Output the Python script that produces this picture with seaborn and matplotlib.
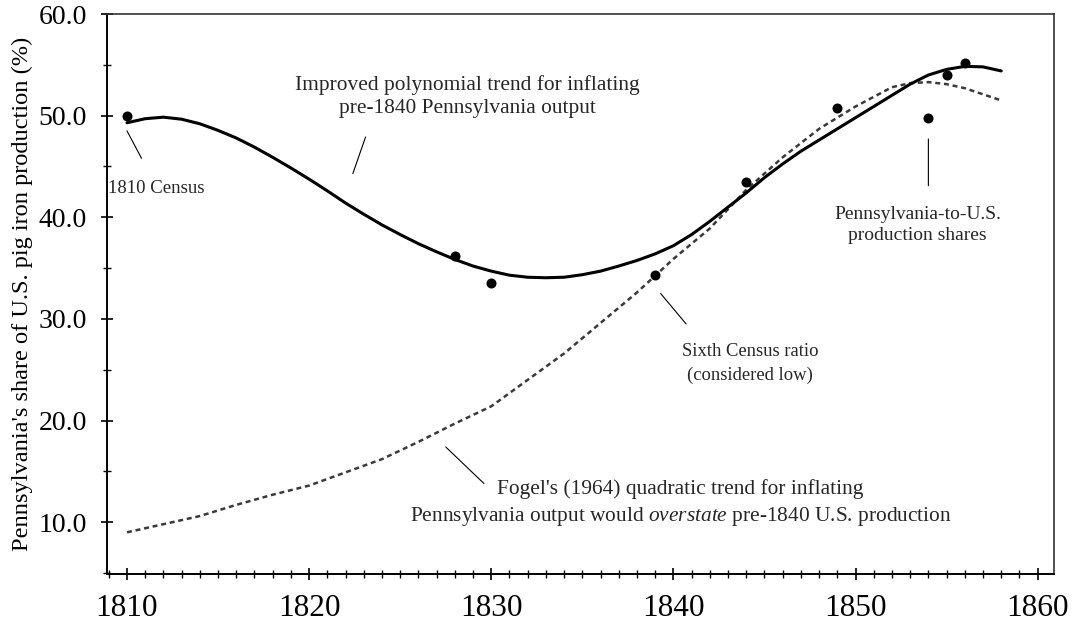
import numpy as np
import pandas as pd
import matplotlib
matplotlib.use("Agg")
import matplotlib.pyplot as plt
import seaborn as sns
from matplotlib.ticker import MultipleLocator, FormatStrFormatter

# ---- data ----
obs_years = [1810, 1828, 1830, 1839, 1844, 1849, 1854, 1855, 1856]
obs_share = [50.0, 36.2, 33.5, 34.3, 43.5, 50.8, 49.8, 54.0, 55.2]

poly_years = list(range(1810, 1859))
poly_share = [49.3, 49.7, 49.85, 49.65, 49.2, 48.55, 47.8, 46.9, 45.9, 44.85,
              43.75, 42.6, 41.4, 40.3, 39.25, 38.3, 37.4, 36.6, 35.85, 35.2,
              34.7, 34.3, 34.1, 34.05, 34.1, 34.35, 34.7, 35.2, 35.75, 36.4,
              37.2, 38.3, 39.6, 41.0, 42.4, 43.9, 45.25, 46.5, 47.6, 48.7,
              49.8, 50.9, 52.0, 53.1, 54.0, 54.55, 54.85, 54.8, 54.4]

fogel_years = [1810, 1812, 1814, 1816, 1818, 1820, 1822, 1824, 1826, 1828,
               1830, 1832, 1834, 1836, 1838, 1840, 1842, 1844, 1846, 1848,
               1850, 1852, 1853, 1854, 1855, 1856, 1857, 1858]
fogel_share = [9.0, 9.8, 10.6, 11.7, 12.7, 13.6, 14.9, 16.2, 17.9, 19.7,
               21.4, 24.0, 26.6, 29.6, 32.6, 35.9, 38.9, 42.7, 45.9, 48.7,
               50.9, 52.8, 53.2, 53.3, 53.1, 52.7, 52.1, 51.5]

x_ticks = [1810, 1820, 1830, 1840, 1850, 1860]
y_ticks = [10, 20, 30, 40, 50, 60]
y_label = "Pennsylvania's share of U.S. pig iron production (%)"

# ---- style ----
sns.set_theme(style="white")
plt.rcParams['font.family'] = ['Liberation Serif', 'DejaVu Serif']
plt.rcParams['mathtext.fontset'] = 'custom'
plt.rcParams['mathtext.rm'] = 'Liberation Serif'
plt.rcParams['mathtext.it'] = 'Liberation Serif:italic'

fig = plt.figure(figsize=(10.76, 6.26), dpi=100)
fig.patch.set_facecolor('white')
ax = fig.add_axes([0.0994, 0.0831, 0.8802, 0.8945])
ax.set_facecolor('white')

df_poly = pd.DataFrame({'year': poly_years, 'share': poly_share})
df_fogel = pd.DataFrame({'year': fogel_years, 'share': fogel_share})
df_obs = pd.DataFrame({'year': obs_years, 'share': obs_share})

sns.lineplot(data=df_fogel, x='year', y='share', ax=ax, color='#3a3a3a',
             linewidth=1.8, linestyle=(0, (2.0, 1.5)), estimator=None, sort=False)
sns.lineplot(data=df_poly, x='year', y='share', ax=ax, color='black',
             linewidth=2.2, estimator=None, sort=False)
sns.scatterplot(data=df_obs, x='year', y='share', ax=ax, color='black',
                s=52, edgecolor='black', linewidth=0, zorder=5)

ax.set_xlim(1808.9, 1860.9)
ax.set_ylim(4.9, 60)
ax.set_xticks(x_ticks)
ax.set_yticks(y_ticks)
ax.xaxis.set_minor_locator(MultipleLocator(1))
ax.yaxis.set_minor_locator(MultipleLocator(5))
ax.yaxis.set_major_formatter(FormatStrFormatter('%.1f'))
ax.tick_params(axis='both', which='major', direction='inout', length=9,
               width=1.2, color='black', pad=10, labelcolor='black')
ax.tick_params(axis='x', which='major', labelsize=22.5)
ax.tick_params(axis='y', which='major', labelsize=20)
ax.tick_params(axis='both', which='minor', direction='inout', length=6,
               width=1.0, color='black')
ax.tick_params(axis='x', which='both', bottom=True, top=False)
ax.tick_params(axis='y', which='both', left=True, right=False)

for side in ['left', 'bottom']:
    ax.spines[side].set_color('black')
    ax.spines[side].set_linewidth(1.4)
for side in ['top', 'right']:
    ax.spines[side].set_color('#333333')
    ax.spines[side].set_linewidth(1.2)

ax.set_xlabel('')
ax.set_ylabel(y_label, fontsize=17.6, color='black', labelpad=4)

# ---- annotations ----
line_kw = dict(arrowprops=dict(arrowstyle='-', color='black', lw=0.8,
                               shrinkA=0, shrinkB=0))

ax.annotate('', xy=(1810.0, 48.5), xytext=(1810.8, 45.8), **line_kw)
ax.text(1808.98, 42.8, '1810 Census', fontsize=13.5, ha='left', va='center')

ax.annotate('', xy=(1822.4, 44.3), xytext=(1823.1, 47.9), **line_kw)
ax.text(1828.7, 51.9, 'Improved polynomial trend for inflating\npre-1840 Pennsylvania output',
        fontsize=15.4, ha='center', va='center', linespacing=1.25)

ax.annotate('', xy=(1839.3, 32.5), xytext=(1840.7, 29.5), **line_kw)
ax.text(1844.2, 25.6, 'Sixth Census ratio\n(considered low)',
        fontsize=13.4, ha='center', va='center', linespacing=1.45)

ax.annotate('', xy=(1854.0, 47.7), xytext=(1854.0, 43.1), **line_kw)
ax.text(1853.4, 39.2, 'Pennsylvania-to-U.S.\nproduction shares',
        fontsize=14, ha='center', va='center', linespacing=1.3)

ax.annotate('', xy=(1827.5, 17.4), xytext=(1829.6, 13.8), **line_kw)
ax.text(1840.4, 13.3, "Fogel's (1964) quadratic trend for inflating",
        fontsize=15.4, ha='center', va='center')
ax.text(1840.4, 10.6, r"Pennsylvania output would $\mathit{overstate}$ pre-1840 U.S. production",
        fontsize=15.4, ha='center', va='center')

fig.savefig('out.png', dpi=100, facecolor='white')
